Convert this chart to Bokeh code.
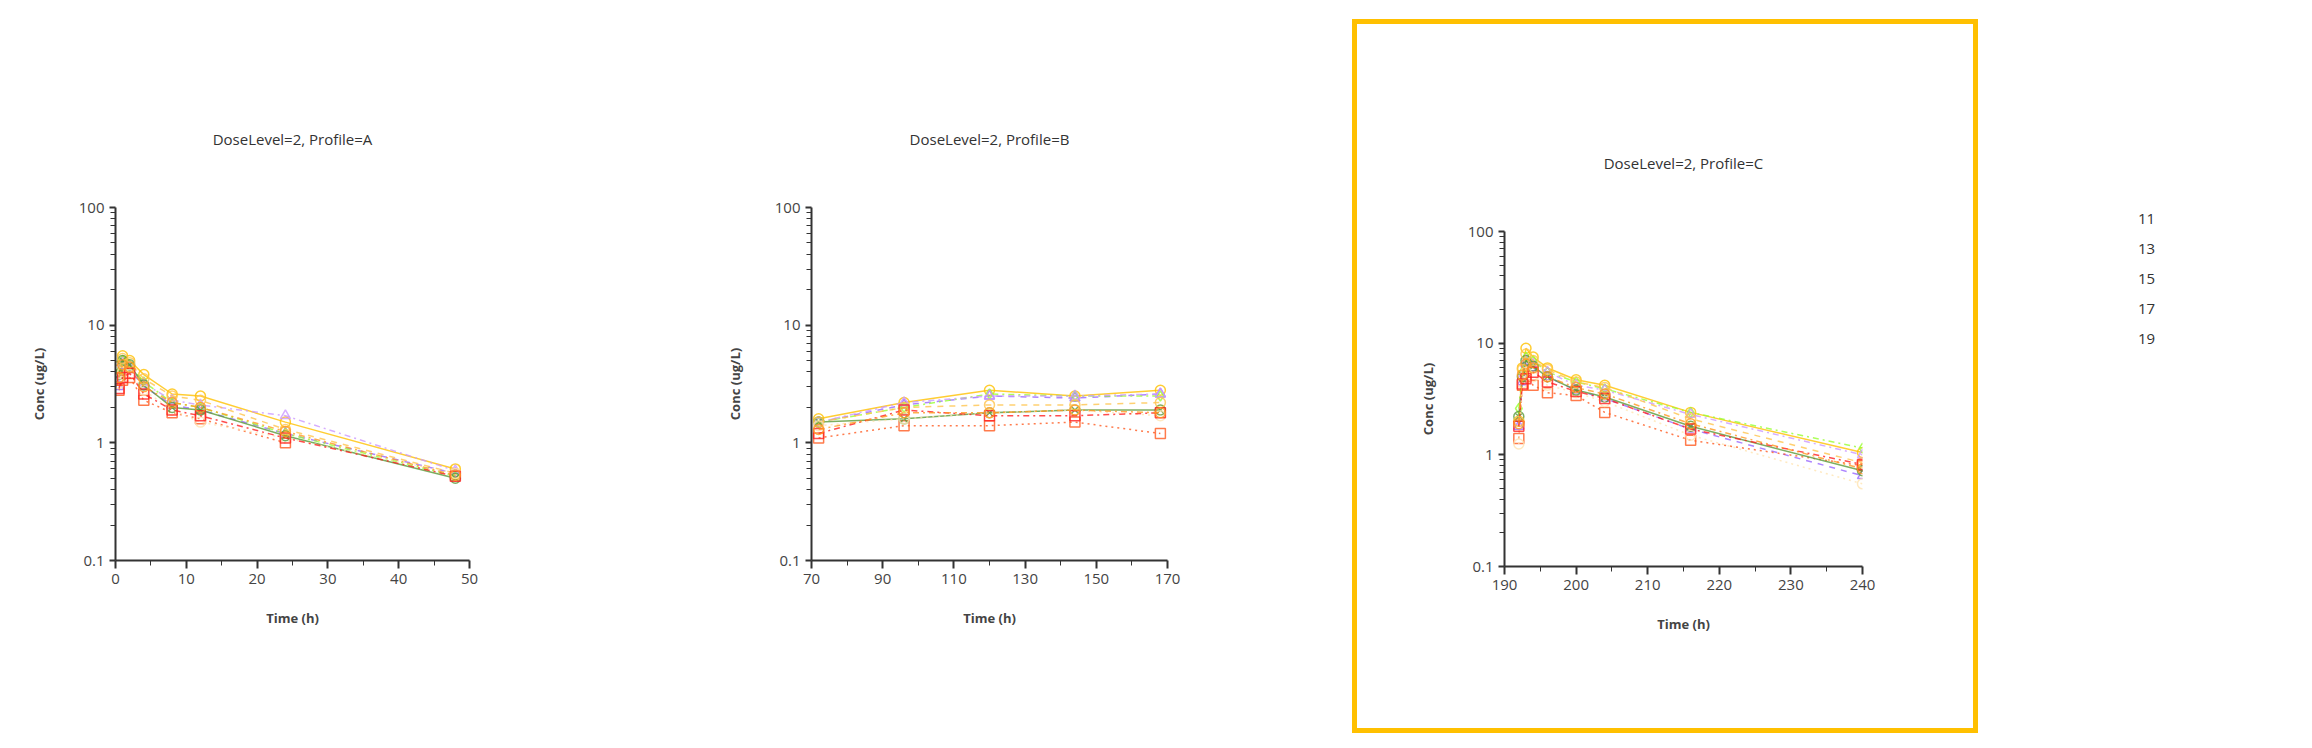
import math
from bokeh.plotting import figure
from bokeh.layouts import row
from bokeh.models import FixedTicker, CustomJSTickFormatter, Legend, LegendItem, Label, Range1d
from bokeh.embed import file_html
from bokeh.resources import INLINE

NaN = float("nan")
subjects = ["1", "3", "5", "7", "9", "11", "13", "15", "17", "19"]
colors = ["#FFC000", "#9966FF", "#FF5A1F", "#99FF33", "#CC99FF", "#5A9A3A", "#FFC44D", "#FFE4B0", "#FF2020", "#FF9A20"]
dashes = ["solid", "dashed", "dotted", "dashdot", "dashdot", "solid", "dashed", "dotted", "dashdot", "dashdot"]
markers = ["circle", "triangle", "square", "diamond", "triangle", "circle_x", "circle", "circle", "square", "circle"]

times_a = [0.5, 1, 2, 4, 8, 12, 24, 48]
conc_a = [
    [4.5, 5.5, 5.0, 3.8, 2.6, 2.5, 1.5, 0.6],
    [3.0, 4.5, 4.2, 3.0, 2.1, 1.9, 1.2, 0.55],
    [2.8, 3.4, 3.6, 2.3, 1.8, 1.6, 1.0, NaN],
    [4.0, 5.0, 4.5, 3.3, 2.2, 2.0, 1.2, 0.52],
    [3.5, 4.8, 4.4, 3.2, 2.3, 2.1, 1.7, 0.58],
    [3.8, 5.0, 4.6, 3.1, 2.0, 1.9, 1.15, 0.5],
    [4.2, 5.2, 4.8, 3.5, 2.5, 2.3, 1.3, 0.55],
    [3.2, 4.0, 3.8, 2.8, 1.9, 1.5, 1.1, 0.55],
    [2.9, 3.6, 3.9, 2.6, 1.9, 1.7, 1.1, 0.52],
    [3.6, 4.6, 4.4, 3.0, 2.2, 2.0, 1.25, 0.53],
]
times_b = [72, 96, 120, 144, 168]
conc_b = [
    [1.6, 2.2, 2.8, 2.5, 2.8],
    [1.5, 2.1, 2.5, 2.4, 2.6],
    [1.1, 1.4, 1.4, 1.5, 1.2],
    [1.5, 2.0, 2.6, 2.5, 2.5],
    [1.5, 2.2, 2.5, 2.5, 2.6],
    [1.5, 1.6, 1.8, 1.9, 1.9],
    [1.5, 2.0, 2.1, 2.1, 2.2],
    [1.4, 1.6, 1.8, 1.9, 1.7],
    [1.2, 1.9, 1.7, 1.7, 1.8],
    [1.3, 1.8, 1.8, 1.9, 1.8],
]
times_c = [192, 192.5, 193, 194, 196, 200, 204, 216, 240]
conc_c = [
    [2.0, 6.0, 9.0, 7.5, 6.0, 4.7, 4.2, 2.4, 1.05],
    [1.8, 4.5, 6.5, 6.0, 5.0, 3.8, 3.2, 1.7, 0.65],
    [1.4, 4.2, 5.0, 4.2, 3.6, 3.4, 2.4, 1.35, 0.8],
    [2.6, 5.5, 7.5, 7.0, 5.5, 4.5, 3.9, 2.4, 1.15],
    [2.0, 5.0, 7.0, 6.5, 5.5, 4.2, 3.8, 2.3, 1.0],
    [2.2, 5.0, 7.0, 6.2, 5.0, 3.8, 3.3, 1.8, 0.72],
    [2.0, 5.8, 8.0, 7.0, 5.8, 4.5, 4.0, 2.1, 0.85],
    [1.25, 4.4, 5.5, 5.0, 4.2, 3.6, 3.0, 1.5, 0.55],
    [1.8, 4.3, 4.8, 5.5, 4.5, 3.7, 3.2, 1.7, 0.82],
    [1.9, 5.2, 6.5, 6.0, 5.0, 4.0, 3.5, 1.9, 0.75],
]
titles = ["DoseLevel=2, Profile=A", "DoseLevel=2, Profile=B", "DoseLevel=2, Profile=C"]
xlims = [(0, 50), (70, 170), (190, 240)]
xmajor = [[0, 10, 20, 30, 40, 50], [70, 90, 110, 130, 150, 170], [190, 200, 210, 220, 230, 240]]
xminor = [[5, 15, 25, 35, 45], [80, 100, 120, 140, 160], [195, 205, 215, 225, 235]]

FONT = "Open Sans"
ymajor = [0.1, 1, 10, 100]
yminor = [m * d for d in (0.1, 1, 10) for m in range(2, 10)]


def panel(idx, times, concs, width, left, frame_w, height, top, bottom, styles=None, margin=None):
    right = width - left - frame_w
    p = figure(width=width, height=height, y_axis_type="log", output_backend="svg",
               toolbar_location=None, x_range=Range1d(*xlims[idx]), y_range=Range1d(0.1, 100),
               min_border_left=left, min_border_right=right, min_border_top=top,
               min_border_bottom=bottom, title=titles[idx])
    if styles:
        p.styles = styles
    if margin:
        p.margin = margin
    p.outline_line_color = None
    p.grid.visible = False
    p.title.align = "center"
    p.title.text_font = FONT
    p.title.text_font_style = "normal"
    p.title.text_font_size = "15px"
    p.title.text_color = "#333333"
    p.title.standoff = 118
    for ax in (p.xaxis[0], p.yaxis[0]):
        ax.axis_line_color = "#333333"
        ax.axis_line_width = 2
        ax.major_tick_line_color = "#333333"
        ax.minor_tick_line_color = "#333333"
        ax.major_tick_line_width = 2
        ax.major_tick_out = 8
        ax.major_tick_in = 0
        ax.minor_tick_out = 5
        ax.minor_tick_in = 0
        ax.major_label_text_font = FONT
        ax.major_label_text_font_size = "15px"
        ax.major_label_text_color = "#444444"
        ax.axis_label_text_font = FONT
        ax.axis_label_text_font_style = "bold"
        ax.axis_label_text_font_size = "13px"
        ax.axis_label_text_color = "#444444"
    p.xaxis.ticker = FixedTicker(ticks=xmajor[idx], minor_ticks=xminor[idx])
    p.yaxis.ticker = FixedTicker(ticks=ymajor, minor_ticks=yminor)
    p.yaxis.formatter = CustomJSTickFormatter(code="return tick.toString();")
    p.yaxis.major_tick_out = 6
    p.xaxis.axis_label = "Time (h)"
    p.yaxis.axis_label = "Conc (ug/L)"
    p.xaxis.axis_label_standoff = 22
    p.yaxis.axis_label_standoff = 28
    for i in range(len(subjects)):
        c = colors[i]
        p.line(times, concs[i], line_color=c, line_dash=dashes[i], line_width=1.5, line_alpha=0.8)
        p.scatter(times, concs[i], marker=markers[i], size=10, line_color=c, fill_color=None,
                  line_width=1.5, line_alpha=0.8)
    return p


H = 732
pa = panel(0, times_a, conc_a, 690, 115, 354, H, 207, 172)
pb = panel(1, times_b, conc_b, 662, 121, 356, H, 207, 172)
pc = panel(2, times_c, conc_c, 626, 147, 358, 714, 183, 166,
           styles={"border": "5px solid #FFC000", "box-sizing": "border-box"}, margin=(19, 0, 0, 0))

pd = figure(width=318, height=H, output_backend="svg", toolbar_location=None,
            x_range=Range1d(0, 1), y_range=Range1d(0, 1),
            min_border_left=0, min_border_right=0, min_border_top=0, min_border_bottom=0)
pd.axis.visible = False
pd.grid.visible = False
pd.outline_line_color = None
items = []
for i, s in enumerate(subjects):
    r1 = pd.line([], [], line_color=colors[i], line_dash=dashes[i], line_width=2)
    r2 = pd.scatter([], [], marker=markers[i], size=4, line_color=colors[i], fill_color=colors[i])
    items.append(LegendItem(label=s, renderers=[r1, r2]))
leg = Legend(items=items, location=(90, 212), glyph_width=50, glyph_height=20, spacing=10,
             label_standoff=20, padding=0, margin=0, border_line_color=None,
             background_fill_alpha=0, label_text_font=FONT, label_text_font_size="15px",
             label_text_color="#333333")
pd.add_layout(leg, "center")
pd.add_layout(Label(x=160, y=521, x_units="screen", y_units="screen", text="Conc vs Time",
                    text_font=FONT, text_font_size="14px", text_color="#333333",
                    text_baseline="middle"))

layout = row(pa, pb, pc, pd)
open("out.html", "w").write(file_html(layout, INLINE))
